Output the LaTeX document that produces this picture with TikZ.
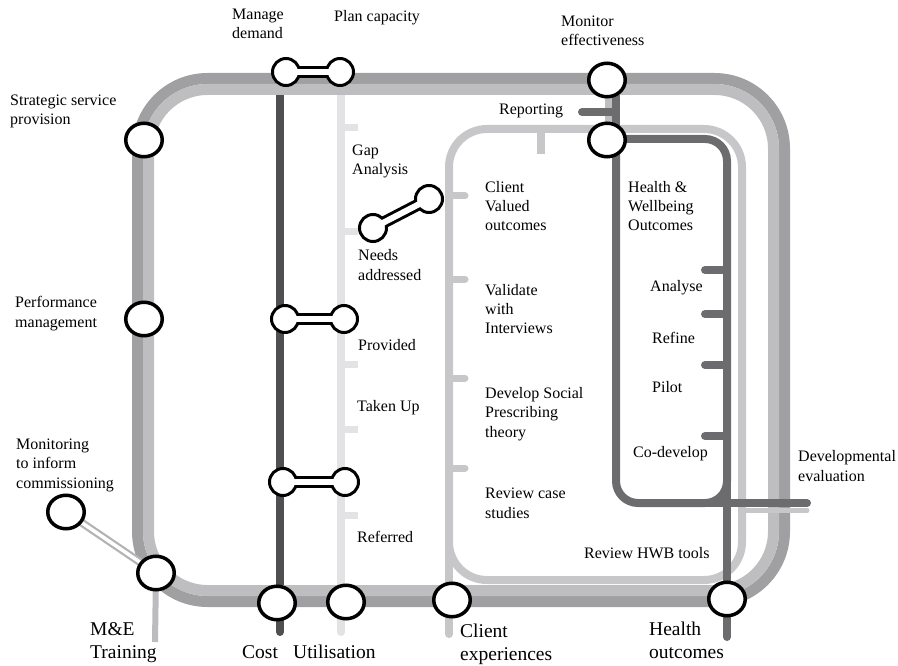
\documentclass[tikz,border=0pt]{standalone}
\usepackage{fontspec}
\setmainfont{Liberation Serif}
\usetikzlibrary{shapes.geometric}
\definecolor{outerdark}{HTML}{A0A0A3}
\definecolor{outerlight}{HTML}{BEBEC1}
\definecolor{innerlight}{HTML}{C7C7C9}
\definecolor{hwgray}{HTML}{6C6C6F}
\definecolor{costgray}{HTML}{505053}
\definecolor{utilgray}{HTML}{E3E3E5}
\definecolor{megray}{HTML}{BCBCBF}
\definecolor{mongray}{HTML}{B3B3B6}
\tikzset{
  lbl/.style={anchor=base west, inner sep=0pt, align=left, font=\fontsize{16}{19.5}\selectfont},
  biglbl/.style={anchor=base west, inner sep=0pt, align=left, font=\fontsize{19.5}{23}\selectfont},
  bigstop/.style={ellipse, draw=black, line width=3.5pt, fill=white, minimum width=36.5pt, minimum height=33.5pt, inner sep=0pt},
  smallstop/.style={circle, draw=black, line width=3pt, fill=white, minimum size=27pt, inner sep=0pt},
  barblack/.style={draw=black, line width=12pt},
  barwhite/.style={draw=white, line width=6pt},
  hwline/.style={draw=hwgray, line width=8pt},
  lightloop/.style={draw=innerlight, line width=8pt},
  utiltick/.style={draw=utilgray, line width=7pt},
  lighttick/.style={draw=innerlight, line width=7pt, line cap=round},
  hwtick/.style={draw=hwgray, line width=8pt, line cap=round}
}
\begin{document}
\begin{tikzpicture}[x=1pt,y=-1pt]
\useasboundingbox (0,0) rectangle (898,666);

% stop coordinates
\coordinate (cManA) at (286,72);
\coordinate (cManB) at (340,72);
\coordinate (cNeedA) at (373,228);
\coordinate (cNeedB) at (429,199);
\coordinate (cProvA) at (285,319);
\coordinate (cProvB) at (344,319);
\coordinate (cLowA) at (283,482);
\coordinate (cLowB) at (345,482);
\coordinate (cMon) at (66,512);
\coordinate (cME) at (156,573);

% Cost line
\draw[draw=costgray, line width=8pt, line cap=round] (280,85) -- (280,632);
% Utilisation line
\draw[draw=utilgray, line width=8pt, line cap=round] (341,85) -- (341,632);
\foreach \yy in {128,232,364,429,515} \draw[utiltick] (341,\yy) -- (358,\yy);

% inner client loop
\draw[lightloop, rounded corners=38pt] (449,129) rectangle (742,580);
\draw[lightloop, line cap=round] (449,520) -- (449,634);
\draw[lightloop] (541,129) -- (541,154);
\foreach \yy in {196,279,378,468} \draw[lighttick] (449,\yy) -- (465,\yy);
\draw[draw=outerlight, line width=7pt] (608,95) -- (608,129);

% Health & wellbeing loop
\draw[hwline, rounded corners=22pt] (640,139) -- (727,139) -- (727,503) -- (616,503) -- (616,400);
\draw[hwline, rounded corners=10pt] (640,139) -- (616,139) -- (616,400);
\draw[hwline] (616,95) -- (616,150);
\draw[hwline, line cap=round] (727,480) -- (727,637);
\draw[hwline, line cap=round] (582,112) -- (616,112);
\foreach \yy in {270,314,365,436} \draw[hwtick] (705,\yy) -- (727,\yy);

% outer band
\draw[draw=outerdark, line width=11pt, rounded corners=70pt] (137.5,78.5) rectangle (784.5,601.5);
\draw[draw=outerlight, line width=11pt, rounded corners=59pt] (148.5,89.5) rectangle (773.5,590.5);

% developmental evaluation branch
\draw[hwline, line cap=round] (705,503) -- (807,503);
\draw[draw=innerlight, line width=5pt, line cap=round] (742,510.5) -- (807,510.5);

% M&E line and monitoring link
\draw[draw=megray, line width=6pt] (cME) -- (155,642);
\draw[draw=mongray, line width=8pt] (cMon) -- (cME);
\draw[draw=white, line width=3.5pt] (cMon) -- (cME);

% paired stops: black bars
\draw[barblack] (cManA) -- (cManB);
\draw[barblack] (cNeedA) -- (cNeedB);
\draw[barblack] (cProvA) -- (cProvB);
\draw[barblack] (cLowA) -- (cLowB);

\node[smallstop] (manA) at (cManA) {};
\node[smallstop] (manB) at (cManB) {};
\node[smallstop] (needA) at (cNeedA) {};
\node[smallstop] (needB) at (cNeedB) {};
\node[smallstop] (provA) at (cProvA) {};
\node[smallstop] (provB) at (cProvB) {};
\node[smallstop] (lowA) at (cLowA) {};
\node[smallstop] (lowB) at (cLowB) {};

\draw[barwhite] (manA.center) -- (manB.center);
\draw[barwhite] (needA.center) -- (needB.center);
\draw[barwhite] (provA.center) -- (provB.center);
\draw[barwhite] (lowA.center) -- (lowB.center);

% big stops
\node[bigstop] (strat) at (144,140) {};
\node[bigstop] (perf) at (144,319) {};
\node[bigstop] (monit) at (cMon) {};
\node[bigstop] (metr) at (cME) {};
\node[bigstop] (cost) at (277,603) {};
\node[bigstop] (util) at (346,602) {};
\node[bigstop] (clex) at (452,600) {};
\node[bigstop] (hout) at (727,599) {};
\node[bigstop] (meff) at (607,80) {};
\node[bigstop] (rep) at (607,140) {};

% labels (anchor = baseline of last line)
\node[lbl] at (232,39) {Manage\\demand};
\node[lbl] at (334,22) {Plan capacity};
\node[lbl] at (10,125) {Strategic service\\provision};
\node[lbl] at (561,46) {Monitor\\effectiveness};
\node[lbl] at (499,115) {Reporting};
\node[lbl] at (352,175) {Gap\\Analysis};
\node[lbl] at (485,231) {Client\\Valued\\outcomes};
\node[lbl] at (628,231) {Health \&\\Wellbeing\\Outcomes};
\node[lbl] at (358,280) {Needs\\addressed};
\node[lbl] at (485,334) {Validate\\with\\Interviews};
\node[lbl] at (650,291) {Analyse};
\node[lbl] at (15,327) {Performance\\management};
\node[lbl] at (358,350) {Provided};
\node[lbl] at (652,343) {Refine};
\node[lbl] at (652,392) {Pilot};
\node[lbl] at (485,437) {Develop Social\\Prescribing\\theory};
\node[lbl] at (357,411) {Taken Up};
\node[lbl] at (16,488) {Monitoring\\to inform\\commissioning};
\node[lbl] at (633,457) {Co-develop};
\node[lbl] at (798,481) {Developmental\\evaluation};
\node[lbl] at (485,518) {Review case\\studies};
\node[lbl] at (357,542) {Referred};
\node[lbl] at (584,558) {Review HWB tools};
\node[biglbl] at (90,658) {M\&E\\Training};
\node[biglbl] at (242,658) {Cost};
\node[biglbl] at (293,658) {Utilisation};
\node[biglbl] at (460,660) {Client\\experiences};
\node[biglbl] at (649,658) {Health\\outcomes};
\end{tikzpicture}
\end{document}
